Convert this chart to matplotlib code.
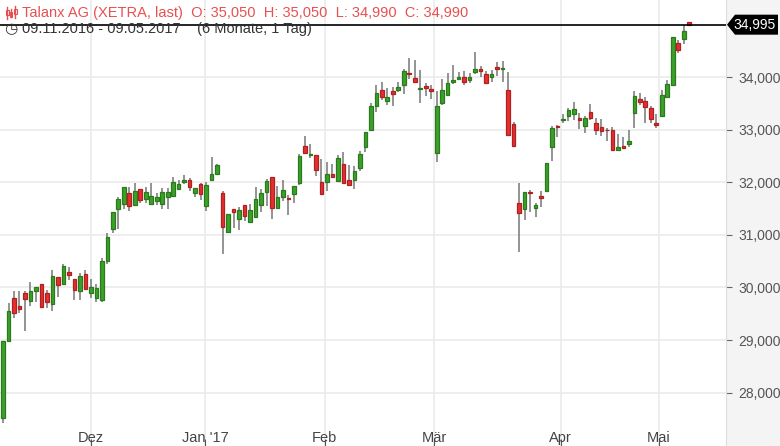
import matplotlib
matplotlib.use("Agg")
import matplotlib.pyplot as plt
from matplotlib.patches import Rectangle, Polygon
from matplotlib.lines import Line2D

plt.rcParams["font.family"] = "Liberation Sans"

opens  = [27520,28980,29800,29650,29890,29740,29930,30070,29890,29690,30200,30070,30290,30160,29930,30260,29890,29800,29760,30500,
          31110,31490,31590,31800,31570,31870,31680,31590,31640,31590,31720,31740,31870,32000,32040,31800,31970,31550,32040,32160,
          31800,31050,31490,31300,31570,31240,31340,31570,31810,32100,31510,31720,31700,31780,31990,32690,32520,32520,32000,32000,
          32160,32020,32350,32040,32040,32270,32670,32990,33450,33750,33540,33730,33750,33850,34080,33980,33770,33830,33770,32560,
          33510,33660,33900,33960,34000,33940,34100,34150,34060,34000,34190,34150,33750,33110,31600,31490,31820,31510,31740,31830,
          32670,33070,33190,33260,33300,33220,33070,33340,33130,33050,33000,32990,32610,32690,32730,33320,33580,33540,33410,33130,
          33260,33620,33850,34650,34720,35050]
highs  = [28980,29700,29930,29930,29930,30100,30010,30070,29950,30330,30200,30450,30390,30160,30270,30330,30160,30070,30560,31030,
          31430,31720,31910,31910,31990,31870,31910,31990,31800,31890,31890,32100,32040,32140,32080,31890,31990,32000,32480,32350,
          31830,31400,31490,31530,31570,31590,31910,31870,32060,32100,31930,32040,31760,31930,32540,32880,32730,32520,32440,32380,
          32350,32520,32570,32330,32310,32590,32960,33510,33850,33910,33790,33810,33910,34150,34360,34320,34130,33890,33850,33730,
          33960,34080,34230,34100,34110,34080,34470,34210,34110,34130,34290,34300,34100,33140,31990,31810,31850,31600,31830,32370,
          33070,33090,33300,33410,33530,33320,33260,33490,33220,33200,33030,33050,32920,32860,32990,33730,33700,33620,33450,33300,
          33750,33940,34760,34700,34990,35050]
lows   = [27420,28980,29420,29510,29170,29650,29720,29610,29610,29550,29820,30070,30140,29760,29760,29970,29800,29720,29720,30440,
          31030,31110,31490,31450,31570,31610,31610,31590,31570,31490,31490,31740,31870,31970,31830,31720,31660,31450,32040,32160,
          30640,31050,31130,31090,31260,31240,31340,31430,31550,31300,31510,31640,31380,31610,31950,32560,32460,32120,31780,31830,
          32100,32020,31990,31950,31870,32210,32570,32970,33340,33560,33470,33450,33710,33680,33960,33910,33510,33640,33580,32380,
          33470,33660,33870,33960,33850,33890,34060,34000,33890,33900,34020,33900,32900,32690,30670,31280,31430,31340,31530,31830,
          32400,32860,33130,33160,33180,33010,32940,33180,32900,32880,32780,32610,32590,32630,32670,33030,33470,33130,33130,33030,
          33260,33620,33850,34460,34630,34990]
closes = [28980,29550,29510,29590,29780,29930,30010,29630,29720,30220,30050,30410,30240,29950,30220,29970,30010,29990,30500,30960,
          31430,31680,31910,31550,31830,31660,31810,31740,31720,31810,31810,32000,31970,32040,31910,31890,31780,31950,32160,32330,
          31150,31400,31430,31470,31360,31470,31680,31800,32020,31510,31720,31850,31680,31930,32500,32560,32540,32230,31780,32160,
          32100,32460,31990,31950,32210,32540,32960,33450,33700,33620,33620,33680,33810,34110,34060,33910,33790,33790,33730,33450,
          33750,33890,33940,34000,33900,34000,34150,34110,33890,34060,34150,34170,32900,32690,31420,31810,31800,31570,31700,32370,
          33030,33050,33210,33370,33390,33180,33220,33220,32990,32970,32990,32610,32670,32650,32780,33640,33520,33430,33200,33090,
          33660,33870,34760,34510,34870,34990]

month_labels = ["Dez", "Jan '17", "Feb", "Mär", "Apr", "Mai"]
month_pos = [16.0, 36.8, 58.6, 78.5, 101.6, 119.5]
y_ticks = [28000, 29000, 30000, 31000, 32000, 33000, 34000]
last_price = 34995

fig = plt.figure(figsize=(7.8, 4.46), dpi=100)
fig.patch.set_facecolor("white")
fig.patches.append(Rectangle((726/780, 0), 1 - 726/780, 1, transform=fig.transFigure,
                             facecolor="#f4f4f4", edgecolor="none", zorder=-5))
ax = fig.add_axes([0, 0, 726/780, 1])
ax.set_xlim(-0.55, 131.7)
ax.set_ylim(26986, 35464)
for s in ["top", "left", "bottom"]:
    ax.spines[s].set_visible(False)
ax.spines["right"].set_color("#dddddd")

ax.set_yticks(y_ticks)
ax.set_yticklabels([f"{v:,}" for v in y_ticks])
ax.yaxis.tick_right()
ax.tick_params(axis="y", direction="out", length=4, color="#666666", labelcolor="#555555",
               labelsize=10, pad=5)
ax.set_xticks(month_pos)
ax.set_xticklabels([])
ax.tick_params(axis="x", direction="in", length=5, color="#555555")
ax.grid(True, color="#ebebeb", linewidth=1.2)
ax.set_axisbelow(True)
for p, lab in zip(month_pos, month_labels):
    ax.text(p, 27140, lab, ha="center", va="center", fontsize=10.5, color="#444444")

w = 0.66
for i, (o, h, l, c) in enumerate(zip(opens, highs, lows, closes)):
    up = c >= o
    fc = "#3ca02a" if up else "#e53030"
    ec = "#2a7a1c" if up else "#b02020"
    ax.vlines(i, l, h, color="#777777", linewidth=1.1, zorder=2)
    bot = min(o, c)
    hgt = max(abs(c - o), 12)
    ax.add_patch(Rectangle((i - w/2, bot), w, hgt, facecolor=fc, edgecolor=ec, linewidth=0.9, zorder=3))

ax.axhline(last_price, color="black", linewidth=1.2, zorder=4)
ytr = ax.transData.transform((0, last_price))[1] / 446
box = Polygon([(727/780, ytr), (735/780, ytr + 10/446), (778/780, ytr + 10/446),
               (778/780, ytr - 10/446), (735/780, ytr - 10/446)], closed=True,
              transform=fig.transFigure, facecolor="black", edgecolor="none", zorder=5)
fig.patches.append(box)
fig.text(755/780, ytr, f"{last_price:,}", color="white", fontsize=10, ha="center", va="center", zorder=6)

for k, (x0, y0, y1) in enumerate([(7, 7, 19), (11, 9, 17), (15, 6, 18)]):
    fig.lines.append(Line2D([x0/780, x0/780], [1 - y0/446, 1 - y1/446], transform=fig.transFigure,
                            color="#e85050", linewidth=1))
    fig.patches.append(Rectangle(((x0 - 1.5)/780, 1 - (y0 + 8)/446), 3/780, 5/446, transform=fig.transFigure,
                                 facecolor="white", edgecolor="#e85050", linewidth=0.8))
fig.text(22/780, 1 - 13/446, "Talanx AG (XETRA, last)  O: 35,050  H: 35,050  L: 34,990  C: 34,990",
         color="#e85050", fontsize=10.5, va="center")
fig.text(4/780, 1 - 29/446, "\u25F7", color="#333333", fontsize=11, va="center", family="DejaVu Sans")
fig.text(22/780, 1 - 29/446, "09.11.2016 - 09.05.2017    (6 Monate, 1 Tag)",
         color="#333333", fontsize=10.5, va="center")

fig.savefig("out.png", dpi=100)
